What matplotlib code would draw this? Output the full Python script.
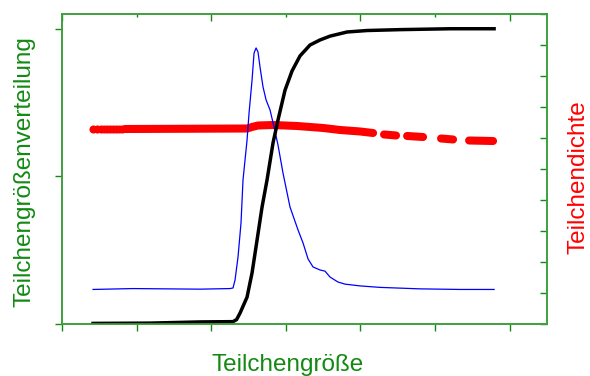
import numpy as np
import matplotlib
matplotlib.use("Agg")
import matplotlib.pyplot as plt
import matplotlib.transforms as mtransforms

plt.rcParams['font.family'] = ['Liberation Sans', 'DejaVu Sans']

# Cumulative distribution (black, left axis)
cum_x = [0.416, 1.180, 1.850, 2.292, 2.340, 2.386, 2.480, 2.547, 2.614, 2.681,
         2.748, 2.828, 2.895, 2.989, 3.083, 3.190, 3.324, 3.458, 3.592, 3.820,
         4.088, 4.531, 5.201, 5.791]
cum_y = [0.002, 0.003, 0.007, 0.008, 0.015, 0.037, 0.091, 0.173, 0.284, 0.396,
         0.488, 0.613, 0.691, 0.792, 0.857, 0.908, 0.945, 0.962, 0.975, 0.989,
         0.994, 0.997, 1.000, 1.000]

# Density distribution (blue, left axis)
dist_x = [0.416, 0.952, 1.850, 2.252, 2.292, 2.319, 2.359, 2.399, 2.426, 2.480,
          2.507, 2.547, 2.574, 2.601, 2.627, 2.654, 2.694, 2.735, 2.788, 2.842,
          2.895, 2.962, 3.056, 3.164, 3.231, 3.298, 3.365, 3.458, 3.525, 3.592,
          3.700, 3.794, 3.995, 4.263, 4.799, 5.335, 5.791]
dist_y = [0.117, 0.120, 0.118, 0.120, 0.122, 0.149, 0.227, 0.342, 0.488, 0.623,
          0.715, 0.826, 0.918, 0.935, 0.921, 0.870, 0.803, 0.759, 0.725, 0.667,
          0.606, 0.511, 0.396, 0.318, 0.274, 0.220, 0.193, 0.183, 0.179, 0.159,
          0.142, 0.135, 0.129, 0.124, 0.119, 0.117, 0.117]

# Particle density (red, right axis): single dots then dense runs with gaps
dens_dot_x = [0.416, 0.469, 0.523, 0.563, 0.603, 0.643, 0.684, 0.724, 0.764, 0.804]
dens_dot_y = [6.29] * len(dens_dot_x)
dens_x = [0.845, 1.582, 2.480, 2.547, 2.627, 2.828, 3.150, 3.499, 3.727, 3.995, 4.169,
          np.nan, 4.316, 4.477, np.nan, 4.625, 4.839, np.nan, 5.080, 5.241,
          np.nan, 5.456, 5.777]
dens_y = [6.290, 6.297, 6.306, 6.355, 6.403, 6.419, 6.387, 6.323, 6.258, 6.210, 6.161,
          np.nan, 6.113, 6.081, np.nan, 6.065, 6.032, np.nan, 5.984, 5.952,
          np.nan, 5.919, 5.903]

x_major = [0, 2, 4, 6]
x_minor = [1, 3, 5]

text_green = '#128a12'
spine_green = '#3f9f3f'
rect = [0.1051, 0.1383, 0.822, 0.8245]

fig = plt.figure(figsize=(5.9, 3.76), dpi=100)
axr = fig.add_axes(rect)
axl = axr.twinx()

# red series under the others
axr.plot(dens_dot_x, dens_dot_y, 'o', color='red', ms=5.8, mew=0)
axr.plot(dens_x, dens_y, '-', color='red', lw=5.8, solid_capstyle='round')
axr.set_ylim(0, 10)
axr.set_xlim(0, 6.5)

axl.plot(dist_x, dist_y, color='blue', lw=0.9)
axl.plot(cum_x, cum_y, color='black', lw=2.5)
axl.set_ylim(0, 1.05)

# left axis ticks for the distribution, right for density
axl.yaxis.tick_left()
axr.yaxis.tick_right()
axl.set_yticks([0, 0.5, 1.0])
axr.set_yticks(np.arange(0, 11, 1))
axl.set_zorder(axr.get_zorder() + 1)
axl.patch.set_visible(False)

for ax in (axl, axr):
    for s in ax.spines.values():
        s.set_color(spine_green)
        s.set_linewidth(1.2)

axr.tick_params(axis='y', direction='in', length=5, color=text_green, width=1,
                labelright=False, labelleft=False, left=False, right=True)
axl.tick_params(axis='y', direction='out', length=5, color=text_green, width=1,
                labelleft=False, labelright=False, left=True, right=False)

# bottom ticks outward, all equal
axr.set_xticks(x_major)
axr.set_xticks(x_minor, minor=True)
axr.tick_params(axis='x', which='both', bottom=True, top=False, labelbottom=False,
                direction='out', length=5, color=text_green, width=1)

# top ticks inward, short at odd positions, drawn as short segments
# hanging from the top spine (x in data, y in axes fraction)
top_trans = mtransforms.blended_transform_factory(axl.transData, axl.transAxes)
axl.vlines(x_major, 1 - 7 / 310, 1, transform=top_trans, color=text_green,
           lw=1, clip_on=False)
axl.vlines(x_minor, 1 - 3.5 / 310, 1, transform=top_trans, color=text_green,
           lw=1, clip_on=False)

fig.text(0.488, 0.014, 'Teilchengröße', color=text_green, fontsize=17.5,
         ha='center', va='baseline')
fig.text(0.041, 0.545, 'Teilchengrößenverteilung', color=text_green, fontsize=17.5,
         rotation=90, ha='center', va='center')
fig.text(0.981, 0.529, 'Teilchendichte', color='red', fontsize=17.5,
         rotation=90, ha='center', va='center')

fig.savefig('out.png', dpi=100)
